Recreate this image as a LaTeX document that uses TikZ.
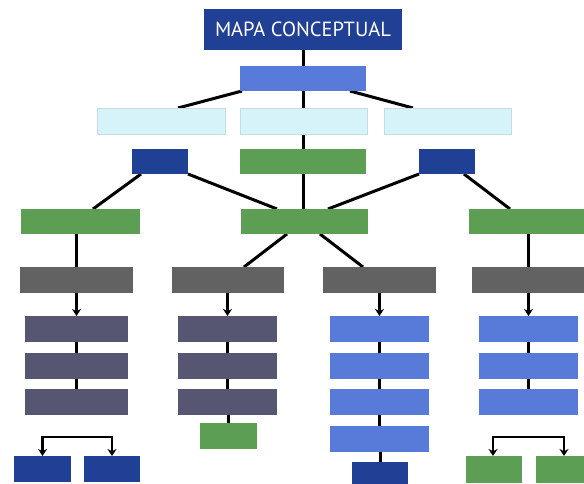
\documentclass[tikz,border=0pt]{standalone}
\usepackage{fontspec}
\setmainfont{PT Sans}
\usetikzlibrary{calc,arrows.meta,backgrounds}
\definecolor{dblue}{RGB}{32,64,150}
\definecolor{mblue}{RGB}{88,122,216}
\definecolor{lcyan}{RGB}{214,243,250}
\definecolor{lcyanb}{RGB}{196,220,226}
\definecolor{cgreen}{RGB}{92,158,84}
\definecolor{cgray}{RGB}{98,98,98}
\definecolor{cslate}{RGB}{86,85,114}
\tikzset{
  bx/.style={inner sep=0pt, outer sep=0pt, anchor=north west, draw=none},
  ln/.style={line width=3pt, black},
  arr/.style={line width=2.6pt, black, -{Stealth[length=7pt,width=9pt]}},
  brk/.style={line width=2.4pt, black, {Stealth[length=7pt,width=9pt]}-{Stealth[length=7pt,width=9pt]}},
}
\begin{document}
\begin{tikzpicture}[x=1pt,y=-1pt]
\useasboundingbox (0,0) rectangle (584,484);
% row 1-2
\node[bx, fill=dblue, minimum width=198pt, minimum height=41pt, text=white, font=\fontsize{20.5}{20.5}\selectfont] (top) at (204,9) {MAPA CONCEPTUAL};
\node[bx, fill=mblue, minimum width=126pt, minimum height=25pt] (b2) at (240,66) {};
% row 3
\node[bx, fill=lcyan, draw=lcyanb, line width=0.6pt, minimum width=128pt, minimum height=26pt] (c1) at (97,108) {};
\node[bx, fill=lcyan, draw=lcyanb, line width=0.6pt, minimum width=127pt, minimum height=26pt] (c2) at (240,108) {};
\node[bx, fill=lcyan, draw=lcyanb, line width=0.6pt, minimum width=127pt, minimum height=26pt] (c3) at (384,108) {};
% row 4
\node[bx, fill=dblue, minimum width=56pt, minimum height=25pt] (d1) at (132,149) {};
\node[bx, fill=cgreen, minimum width=126pt, minimum height=25pt] (g4) at (240,149) {};
\node[bx, fill=dblue, minimum width=56pt, minimum height=25pt] (d2) at (419,149) {};
% row 5
\node[bx, fill=cgreen, minimum width=119pt, minimum height=25pt] (g5a) at (21,209) {};
\node[bx, fill=cgreen, minimum width=127pt, minimum height=25pt] (g5b) at (241,209) {};
\node[bx, fill=cgreen, minimum width=115pt, minimum height=25pt] (g5c) at (469,209) {};
% row 6 gray
\node[bx, fill=cgray, minimum width=113pt, minimum height=26pt] (r1) at (20,267) {};
\node[bx, fill=cgray, minimum width=112pt, minimum height=26pt] (r2) at (172,267) {};
\node[bx, fill=cgray, minimum width=113pt, minimum height=26pt] (r3) at (323,267) {};
\node[bx, fill=cgray, minimum width=112pt, minimum height=26pt] (r4) at (472,267) {};
% column 1 stack
\node[bx, fill=cslate, minimum width=103pt, minimum height=26pt] (s11) at (25,316) {};
\node[bx, fill=cslate, minimum width=103pt, minimum height=26pt] (s12) at (25,353) {};
\node[bx, fill=cslate, minimum width=103pt, minimum height=26pt] (s13) at (25,389) {};
% column 2 stack
\node[bx, fill=cslate, minimum width=99pt, minimum height=26pt] (s21) at (178,316) {};
\node[bx, fill=cslate, minimum width=99pt, minimum height=26pt] (s22) at (178,353) {};
\node[bx, fill=cslate, minimum width=99pt, minimum height=26pt] (s23) at (178,389) {};
\node[bx, fill=cgreen, minimum width=57pt, minimum height=26pt] (s24) at (200,423) {};
% column 3 stack
\node[bx, fill=mblue, minimum width=99pt, minimum height=26pt] (s31) at (330,316) {};
\node[bx, fill=mblue, minimum width=99pt, minimum height=26pt] (s32) at (330,353) {};
\node[bx, fill=mblue, minimum width=99pt, minimum height=26pt] (s33) at (330,389) {};
\node[bx, fill=mblue, minimum width=99pt, minimum height=26pt] (s34) at (330,426) {};
\node[bx, fill=dblue, minimum width=56pt, minimum height=24pt] (s35) at (352,462) {};
% column 4 stack
\node[bx, fill=mblue, minimum width=99pt, minimum height=26pt] (s41) at (479,316) {};
\node[bx, fill=mblue, minimum width=99pt, minimum height=26pt] (s42) at (479,353) {};
\node[bx, fill=mblue, minimum width=99pt, minimum height=26pt] (s43) at (479,389) {};
% bottom pairs
\node[bx, fill=dblue, minimum width=57pt, minimum height=26pt] (e1) at (14,456) {};
\node[bx, fill=dblue, minimum width=56pt, minimum height=26pt] (e2) at (84,456) {};
\node[bx, fill=cgreen, minimum width=56pt, minimum height=27pt] (f1) at (466,456) {};
\node[bx, fill=cgreen, minimum width=48pt, minimum height=27pt] (f2) at (536,456) {};
% connectors
\begin{scope}[on background layer]
\draw[ln] (top.south) -- (top.south |- g5b.north);
\draw[ln] ($(b2.south west)+(2,0)$) -- ($(c1.north east)+(-47,0)$);
\draw[ln] ($(b2.south east)+(-16,0)$) -- ($(c3.north west)+(29,0)$);
\draw[ln] ($(d1.south west)+(9,0)$) -- ($(g5a.north west)+(72,0)$);
\draw[ln] (d1.south east) -- ($(g5b.north west)+(36,0)$);
\draw[ln] (d2.south west) -- ($(g5b.north east)+(-40,0)$);
\draw[ln] ($(d2.south east)+(-11,0)$) -- ($(g5c.north west)+(41,0)$);
\draw[ln] ($(g5b.south west)+(46,0)$) -- ($(r2.north east)+(-40,0)$);
\draw[ln] ($(g5b.south west)+(79,0)$) -- ($(r3.north west)+(40,0)$);
\draw[ln] (r1.north |- g5a.south) -- (r1.north);
\draw[ln] (r4.north |- g5c.south) -- (r4.north);
\draw[ln] (s12.north |- s11.south) -- (s12.north) (s13.north |- s12.south) -- (s13.north);
\draw[ln] (s21.south) -- (s22.north) (s22.south) -- (s23.north) (s24.north |- s23.south) -- (s24.north);
\draw[ln] (s31.south) -- (s32.north) (s32.south) -- (s33.north) (s33.south) -- (s34.north) (s35.north |- s34.south) -- (s35.north);
\draw[ln] (s41.south) -- (s42.north) (s42.south) -- (s43.north);
\end{scope}
\draw[arr] (s11.north |- r1.south) -- (s11.north);
\draw[arr] (s21.north |- r2.south) -- (s21.north);
\draw[arr] (s31.north |- r3.south) -- (s31.north);
\draw[arr] (s41.north |- r4.south) -- (s41.north);
\draw[brk] (e1.north) -- ++(0,-19) -| (e2.north);
\draw[brk] ($(f1.north)+(-1,0)$) -- ++(0,-19) -| ($(f2.north)+(4,0)$);
\end{tikzpicture}
\end{document}
